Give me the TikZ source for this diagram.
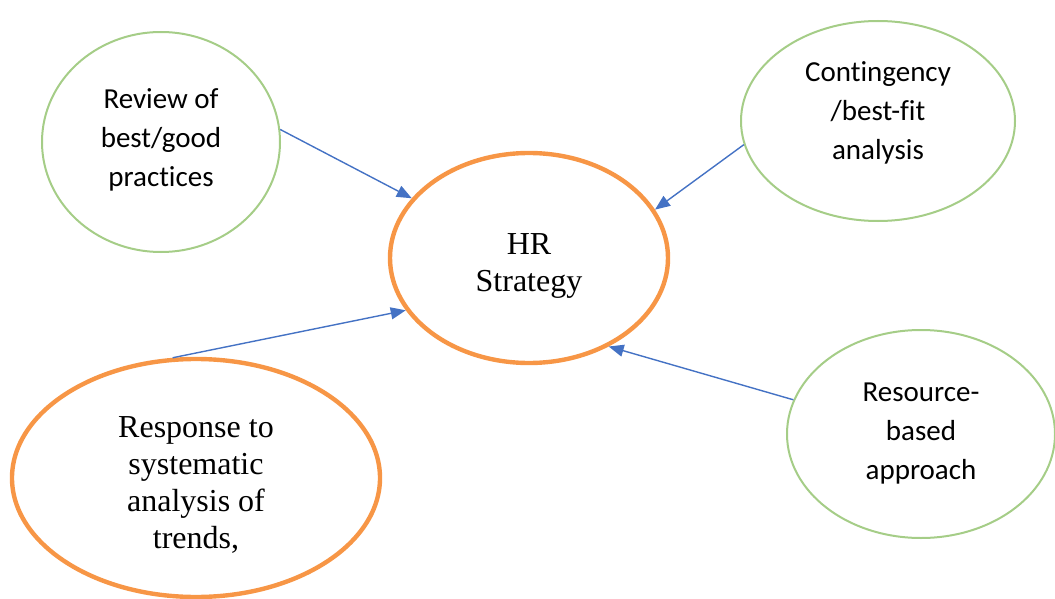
\documentclass[tikz,border=0pt]{standalone}
\usepackage{fontspec}
\setmainfont{Liberation Serif}
\newfontfamily\calibrifont[Ligatures=NoCommon]{Carlito}
\usepackage{xcolor}
\usetikzlibrary{arrows.meta, shapes.geometric}
\definecolor{hrorange}{RGB}{247,150,70}
\definecolor{fitgreen}{RGB}{165,205,135}
\definecolor{arrowblue}{RGB}{68,114,196}

\begin{document}
\begin{tikzpicture}[
		x=0.5pt, y=-0.5pt,
		core/.style={ellipse, draw=hrorange, line width=2.2pt, inner sep=0pt},
		input/.style={ellipse, draw=fitgreen, line width=1pt, inner sep=0pt},
		coretxt/.style={align=center, font=\fontsize{16}{18.5}\selectfont},
		inputtxt/.style={align=center, font=\calibrifont\fontsize{14.5}{19.5}\selectfont},
		link/.style={->, arrowblue, line width=0.7pt},
		>={Triangle[length=7.5pt,width=6pt]}
		]
		\useasboundingbox (0,0) rectangle (1055,599);
		% Central strategy and the four inputs (text set as centre labels, nudged like the original)
		\node[core, minimum width=139pt, minimum height=105pt,
			label={[coretxt, yshift=-4pt]center:{HR\\Strategy}}] (hr) at (529,258) {};
		\node[input, minimum width=119pt, minimum height=110pt,
			label={[inputtxt, yshift=1pt]center:{Review of\\best/good\\practices}}] (rev) at (161,142) {};
		\node[input, minimum width=137pt, minimum height=100pt,
			label={[inputtxt, yshift=4pt]center:{Contingency\\/best-fit\\analysis}}] (cont) at (878,121) {};
		\node[input, minimum width=134pt, minimum height=104pt,
			label={[inputtxt]center:{Resource-\\based\\approach}}] (res) at (921,434) {};
		\node[core, minimum width=184pt, minimum height=119pt,
			label={[coretxt, yshift=-3.5pt]center:{Response to\\systematic\\analysis of\\trends,}}] (resp) at (196,478) {};
		
		% Arrows into the strategy
		\draw[link] (rev.6) -- (hr.153);
		\draw[link] (cont.-170) -- (hr.21);
		\draw[link] (resp.101) -- (hr.-157);
		\draw[link] (res.165) -- (hr.-48);
	\end{tikzpicture}
\end{document}
